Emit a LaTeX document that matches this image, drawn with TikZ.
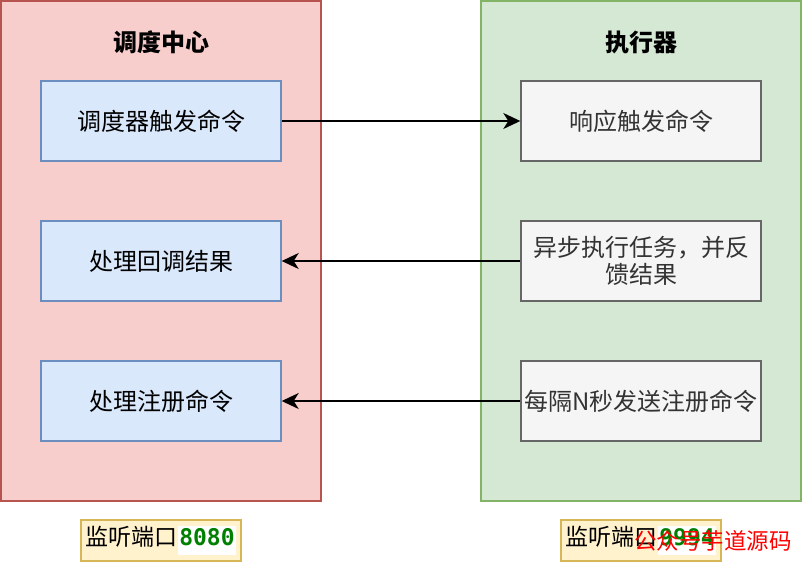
\documentclass[tikz,border=0pt]{standalone}
\usepackage{fontspec}
\setmainfont{Noto Sans CJK SC}
\setmonofont{DejaVu Sans Mono}
\usetikzlibrary{arrows.meta}
\definecolor{redfill}{HTML}{F8CECC}
\definecolor{redline}{HTML}{B85450}
\definecolor{greenfill}{HTML}{D5E8D4}
\definecolor{greenline}{HTML}{82B366}
\definecolor{bluefill}{HTML}{DAE8FC}
\definecolor{blueline}{HTML}{6C8EBF}
\definecolor{grayfill}{HTML}{F5F5F5}
\definecolor{grayline}{HTML}{666666}
\definecolor{graytext}{HTML}{333333}
\definecolor{yelfill}{HTML}{FFF2CC}
\definecolor{yelline}{HTML}{D6B656}
\definecolor{portgreen}{HTML}{008000}
\newcommand{\portnum}[1]{{\setlength{\fboxsep}{1.5pt}\colorbox{white}{\ttfamily\bfseries\color{portgreen}\strut #1}}}
\begin{document}
\begin{tikzpicture}[x=1pt,y=-1pt,
  container/.style={draw, line width=1.4pt, minimum width=320pt, minimum height=500pt, inner sep=0pt},
  redc/.style={container, fill=redfill, draw=redline},
  greenc/.style={container, fill=greenfill, draw=greenline},
  title/.style={font=\fontsize{24}{27}\selectfont\bfseries},
  boxbase/.style={draw, line width=1.4pt, minimum width=240pt, minimum height=80pt, inner sep=1pt, align=center, font=\fontsize{24}{27}\selectfont},
  bluebox/.style={boxbase, fill=bluefill, draw=blueline},
  graybox/.style={boxbase, fill=grayfill, draw=grayline, text=graytext},
  portbox/.style={draw=yelline, fill=yelfill, line width=1.4pt, minimum width=160pt, minimum height=41pt, inner sep=0pt},
  porttext/.style={font=\fontsize{23}{26}\selectfont, inner sep=0pt},
  conn/.style={line width=1.4pt, -{Stealth[length=17pt,width=16pt,inset=5pt]}},
  wm/.style={font=\fontsize{22.5}{26}\selectfont, text=red, inner sep=0pt, anchor=west}
]
\useasboundingbox (0,0) rectangle (802,562);
\node[redc] (sched) at (161,251) {};
\node[greenc] (exec) at (641,251) {};
\node[title] (schedt) at (161,42) {调度中心};
\node[title] (exect) at (641,42) {执行器};

\node[bluebox] (b1) at (161,121) {调度器触发命令};
\node[bluebox] (b2) at (161,261) {处理回调结果};
\node[bluebox] (b3) at (161,401) {处理注册命令};

\node[graybox] (g1) at (641,121) {响应触发命令};
\node[graybox] (g2) at (641,261) {异步执行任务，并反\\馈结果};
\node[graybox] (g3) at (641,401) {每隔N秒发送注册命令};

\draw[conn] (b1) -- (g1);
\draw[conn] (g2) -- (b2);
\draw[conn] (g3) -- (b3);

\node[portbox] (p1) at (161,540.5) {};
\node[porttext] (p1t) at (p1) {监听端口\portnum{8080}};
\node[portbox] (p2) at (641,540.5) {};
\node[porttext] (p2t) at (p2) {监听端口\portnum{9994}};
\node[wm] (wmark) at (634,541) {公众号芋道源码};
\end{tikzpicture}
\end{document}
